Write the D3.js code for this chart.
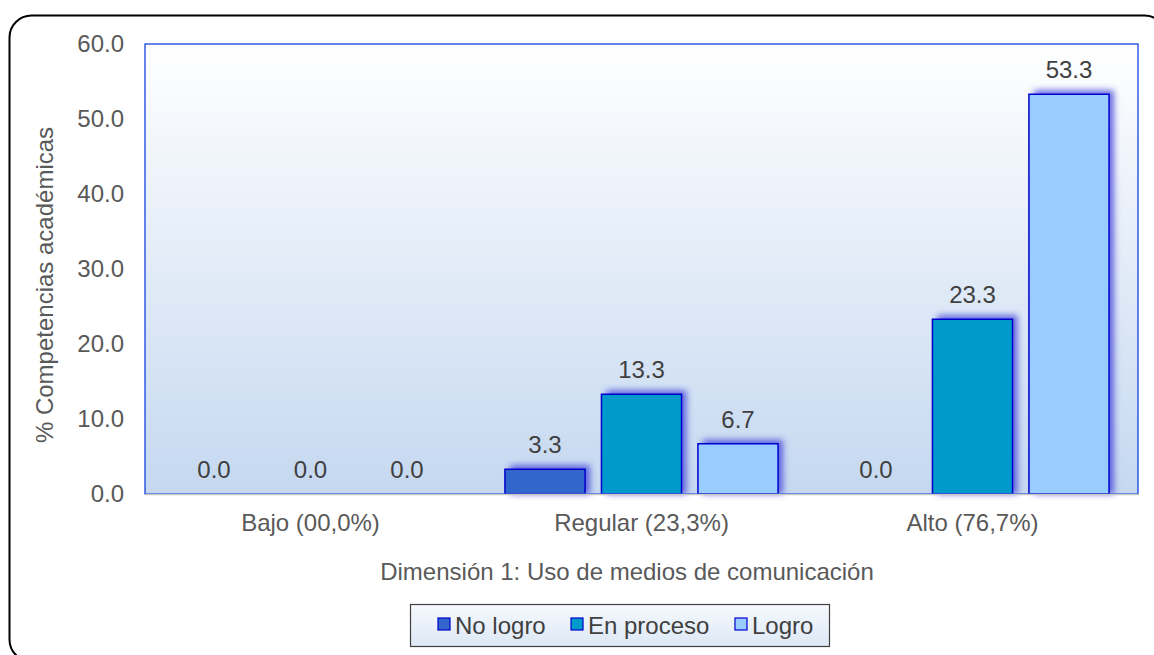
<!DOCTYPE html>
<html><head><meta charset="utf-8">
<script src="https://cdn.jsdelivr.net/npm/d3@7"></script>
<style>body{margin:0;background:#fff;}svg{display:block;font-family:"Liberation Sans",Arial,sans-serif;}</style>
</head><body>
<script>
const categories = ["Bajo (00,0%)", "Regular (23,3%)", "Alto (76,7%)"];
const seriesNames = ["No logro", "En proceso", "Logro"];
const noLogro = [0.0, 3.3, 0.0];
const enProceso = [0.0, 13.3, 23.3];
const logro = [0.0, 6.7, 53.3];
const yTicks = [0, 10, 20, 30, 40, 50, 60];
const colors = ["#3366cc", "#0099cc", "#99ccff"];

const W = 1154, H = 655, FS = 24;
const svg = d3.select("body").append("svg").attr("width", W).attr("height", H);
const defs = svg.append("defs");
const g1 = defs.append("linearGradient").attr("id","bg").attr("x1",0).attr("y1",0).attr("x2",0).attr("y2",1);
g1.append("stop").attr("offset","0%").attr("stop-color","#ffffff");
g1.append("stop").attr("offset","100%").attr("stop-color","#c5d8f0");
const g2 = defs.append("linearGradient").attr("id","lg").attr("x1",0).attr("y1",0).attr("x2",0).attr("y2",1);
g2.append("stop").attr("offset","0%").attr("stop-color","#f6f9fd");
g2.append("stop").attr("offset","100%").attr("stop-color","#dce8f5");
const f = defs.append("filter").attr("id","sh").attr("x","-20%").attr("y","-20%").attr("width","140%").attr("height","140%");
f.append("feGaussianBlur").attr("stdDeviation",3);

// outer rounded frame
svg.append("rect").attr("x",9.5).attr("y",15.5).attr("width",1157).attr("height",646)
  .attr("rx",22).attr("fill","none").attr("stroke","#000").attr("stroke-width",2);

const m = {l:145, t:44, r:1138, b:494};
const x0 = d3.scaleBand().domain(categories).range([m.l, m.r]).paddingInner(0).paddingOuter(0);
const x1 = d3.scaleBand().domain(seriesNames).range([0, x0.bandwidth()]).paddingInner(0.17).paddingOuter(0.3);
const y = d3.scaleLinear().domain([0, 60]).range([m.b, m.t]);

svg.append("rect").attr("x",m.l).attr("y",m.t).attr("width",m.r-m.l).attr("height",m.b-m.t).attr("fill","url(#bg)");

const data = seriesNames.map((s,i)=>({name:s, vals:[noLogro,enProceso,logro][i]}));

const gBars = svg.append("g");
data.forEach((s,si)=>{
  categories.forEach((c,ci)=>{
    const v = s.vals[ci];
    const bx = x0(c) + x1(s.name), bw = x1.bandwidth();
    if (v > 0) {
      gBars.append("rect").attr("x",bx+5).attr("y",y(v)-4).attr("width",bw).attr("height",y(0)-y(v)+4)
        .attr("fill","#3a3ad8").attr("opacity",0.75).attr("filter","url(#sh)");
    }
  });
});
data.forEach((s,si)=>{
  categories.forEach((c,ci)=>{
    const v = s.vals[ci];
    const bx = x0(c) + x1(s.name), bw = x1.bandwidth();
    if (v > 0) {
      gBars.append("rect").attr("x",bx).attr("y",y(v)).attr("width",bw).attr("height",y(0)-y(v))
        .attr("fill",colors[si]).attr("stroke","#0000cc").attr("stroke-width",1.5);
    }
    svg.append("text").attr("x",bx+bw/2).attr("y",y(v)-16).attr("text-anchor","middle")
      .attr("font-size",FS).attr("fill","#404040").text(v.toFixed(1));
  });
});

// plot border
svg.append("rect").attr("x",m.l).attr("y",m.t).attr("width",m.r-m.l).attr("height",m.b-m.t)
  .attr("fill","none").attr("stroke","#0033dd").attr("stroke-width",1.2);
// bottom axis line
svg.append("line").attr("x1",m.l).attr("x2",m.r+1).attr("y1",m.b+0.5).attr("y2",m.b+0.5).attr("stroke","#c8c8c8").attr("stroke-width",1.5);

// y axis
const yAxis = d3.axisLeft(y).tickValues(yTicks).tickFormat(d=>d.toFixed(1)).tickSize(0).tickPadding(21);
const ya = svg.append("g").attr("transform",`translate(${m.l},0)`).call(yAxis);
ya.select(".domain").remove();
ya.selectAll("text").attr("font-size",FS).attr("fill","#595959").attr("font-family","Liberation Sans, Arial, sans-serif");

// x axis
const xAxis = d3.axisBottom(x0).tickSize(0).tickPadding(20);
const xa = svg.append("g").attr("transform",`translate(0,${m.b})`).call(xAxis);
xa.select(".domain").remove();
xa.selectAll("text").attr("font-size",FS).attr("fill","#595959").attr("font-family","Liberation Sans, Arial, sans-serif");

svg.append("text").attr("x",627).attr("y",580).attr("text-anchor","middle").attr("font-size",FS).attr("fill","#595959")
  .text("Dimensión 1: Uso de medios de comunicación");
svg.append("text").attr("transform","translate(53,285) rotate(-90)").attr("text-anchor","middle").attr("font-size",FS).attr("fill","#595959")
  .text("% Competencias académicas");

// legend
const lg = svg.append("g");
lg.append("rect").attr("x",410.5).attr("y",604.5).attr("width",419).attr("height",42).attr("fill","url(#lg)").attr("stroke","#404040").attr("stroke-width",1.2);
const legX = [438, 571, 735];
seriesNames.forEach((s,i)=>{
  lg.append("rect").attr("x",legX[i]).attr("y",618).attr("width",12).attr("height",12).attr("fill",colors[i]).attr("stroke","#0000cc").attr("stroke-width",1.2);
  lg.append("text").attr("x",legX[i]+17).attr("y",634).attr("font-size",FS).attr("fill","#404040").text(s);
});
</script>
</body></html>
